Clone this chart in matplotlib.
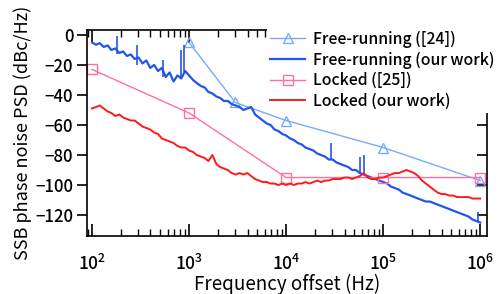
import numpy as np
import matplotlib.pyplot as plt
from matplotlib.ticker import LogLocator, NullFormatter

plt.rcParams['font.family'] = ['Noto Sans CJK JP', 'DejaVu Sans']
plt.rcParams['font.weight'] = 'medium'
plt.rcParams['mathtext.fontset'] = 'custom'
plt.rcParams['mathtext.rm'] = 'Noto Sans CJK JP:medium'
plt.rcParams['axes.unicode_minus'] = True

# reference curves (markers)
ref24_f = [1e3, 3e3, 1e4, 1e5, 1e6]
ref24_psd = [-5, -45, -57, -75, -97]
ref25_f = [1e2, 1e3, 1e4, 1e5, 1e6]
ref25_psd = [-23, -52, -95, -95, -95]

# measured traces, sampled frequencies (Hz)
freq = [100, 110, 120, 132, 145, 158, 174, 191, 209, 229,
        251, 275, 302, 331, 363, 398, 437, 479, 525, 575,
        631, 692, 759, 832, 912,
        1000, 1100, 1200, 1320, 1450, 1580, 1740, 1910, 2090, 2290,
        2510, 2750, 3020, 3310, 3630, 3980, 4370, 4790, 5250, 5750,
        6310, 6920, 7590, 8320, 9120,
        10000, 11000, 12000, 13200, 14500, 15800, 17400, 19100, 20900, 22900,
        25100, 27500, 30200, 33100, 36300, 39800, 43700, 47900, 52500, 57500,
        63100, 69200, 75900, 83200, 91200,
        100000, 110000, 120000, 132000, 145000, 158000, 174000, 191000, 209000, 229000,
        251000, 275000, 302000, 331000, 363000, 398000, 437000, 479000, 525000, 575000,
        631000, 692000, 759000, 832000, 912000, 1000000]

free_ours = [-5, -6.5, -5.5, -8, -7, -10, -9, -12, -11, -14,
             -13, -16, -15, -19, -17, -22, -20, -24, -22, -28,
             -25, -31, -27, -29, -24,
             -27, -30, -32, -34, -35, -38, -39, -41, -42, -44,
             -44, -46, -47, -48, -50, -49, -48, -53, -55, -57,
             -59, -60, -63, -64, -66,
             -67, -69, -70, -72, -73, -75, -76, -77, -79, -80,
             -81, -83, -83, -85, -86, -87, -88, -90, -90, -92,
             -93, -94, -95, -96, -97,
             -98, -99, -101, -102, -103, -105, -106, -107, -108, -109,
             -110, -111, -111, -112, -113, -114, -115, -116, -117, -118,
             -119, -120, -121, -123, -124, -125]

locked_ours = [-49, -48, -47, -49, -51, -52, -54, -53, -55, -56,
               -57, -57, -59, -61, -62, -63, -65, -66, -69, -70,
               -71, -72, -74, -75, -75,
               -77, -78, -80, -81, -82, -84, -80, -86, -88, -89,
               -90, -92, -93, -92, -93, -92, -94, -96, -97, -98,
               -98, -99, -99, -100, -99,
               -100, -99, -100, -99, -99, -98, -99, -98, -97, -98,
               -97, -97, -96, -96, -96, -95, -95, -96, -95, -94,
               -92, -95, -96, -96, -95,
               -95, -94, -93, -92, -92, -91, -90, -91, -92, -94,
               -97, -99, -101, -103, -105, -106, -106, -107, -107, -108,
               -108, -108, -108, -109, -109, -109]

# narrow spurs on the free-running trace: frequency, bottom, top
spur_f = [181, 291, 540, 830, 880, 28800, 57500, 63000, 955000]
spur_lo = [-13, -20, -28, -28, -26, -83, -92, -93, -124]
spur_hi = [-1, -7, -17, -10, -7, -72, -81, -80, -118]

c_ref24 = '#78aaff'
c_free = '#2255ee'
c_ref25 = '#ff6f9f'
c_lock = '#ff1a1a'

fig = plt.figure(figsize=(4.98, 2.94), dpi=100)
ax = fig.add_axes([0.175, 0.197, 0.803, 0.701])

ax.plot(ref24_f, ref24_psd, color=c_ref24, lw=1.0, marker='^', ms=7,
        mfc='none', mec=c_ref24, label='Free-running ([24])')
ax.plot(freq, free_ours, color=c_free, lw=1.6, label='Free-running (our work)')
ax.vlines(spur_f, spur_lo, spur_hi, color=c_free, lw=1.2)
ax.plot(ref25_f, ref25_psd, color=c_ref25, lw=1.0, marker='s', ms=7,
        mfc='none', mec=c_ref25, label='Locked ([25])')
ax.plot(freq, locked_ours, color=c_lock, lw=1.4, label='Locked (our work)')

ax.set_xscale('log')
ax.set_xlim(10**1.95, 10**6.07)
ax.set_ylim(-134, 3.3)
ax.set_yticks([0, -20, -40, -60, -80, -100, -120])
ax.xaxis.set_major_locator(LogLocator(base=10, numticks=10))
ax.xaxis.set_minor_locator(LogLocator(base=10, subs=np.arange(2, 10), numticks=10))
ax.xaxis.set_minor_formatter(NullFormatter())

ax.tick_params(axis='x', which='major', direction='in', length=9, width=1.2,
               top=True, labelsize=12.5, pad=13)
ax.tick_params(axis='x', which='minor', direction='in', length=5, width=1.0, top=True)
ax.tick_params(axis='y', which='major', direction='out', length=7, width=1.2,
               labelsize=12, pad=3)
ax.tick_params(axis='y', which='minor', left=False)
ax.yaxis.set_ticks_position('both')
ax.tick_params(axis='y', which='major', right=True)
for t in ax.yaxis.get_major_ticks():
    t.tick2line.set_marker(0)  # inward tick on right side
    t.tick2line.set_markersize(7)

for s in ax.spines.values():
    s.set_linewidth(1.2)

ax.set_xlabel('Frequency offset (Hz)', fontsize=13.5, labelpad=0)
ax.set_ylabel('SSB phase noise PSD (dBc/Hz)', fontsize=13, labelpad=2)

leg = ax.legend(loc='upper left', bbox_to_anchor=(0.45, 1.012), fontsize=11.4,
                frameon=True, fancybox=False, framealpha=1, edgecolor='white',
                handlelength=2.2, handletextpad=0.5, labelspacing=0.23,
                borderpad=0.2, borderaxespad=0)
leg.get_frame().set_linewidth(0)

fig.savefig('out.png', dpi=100)
